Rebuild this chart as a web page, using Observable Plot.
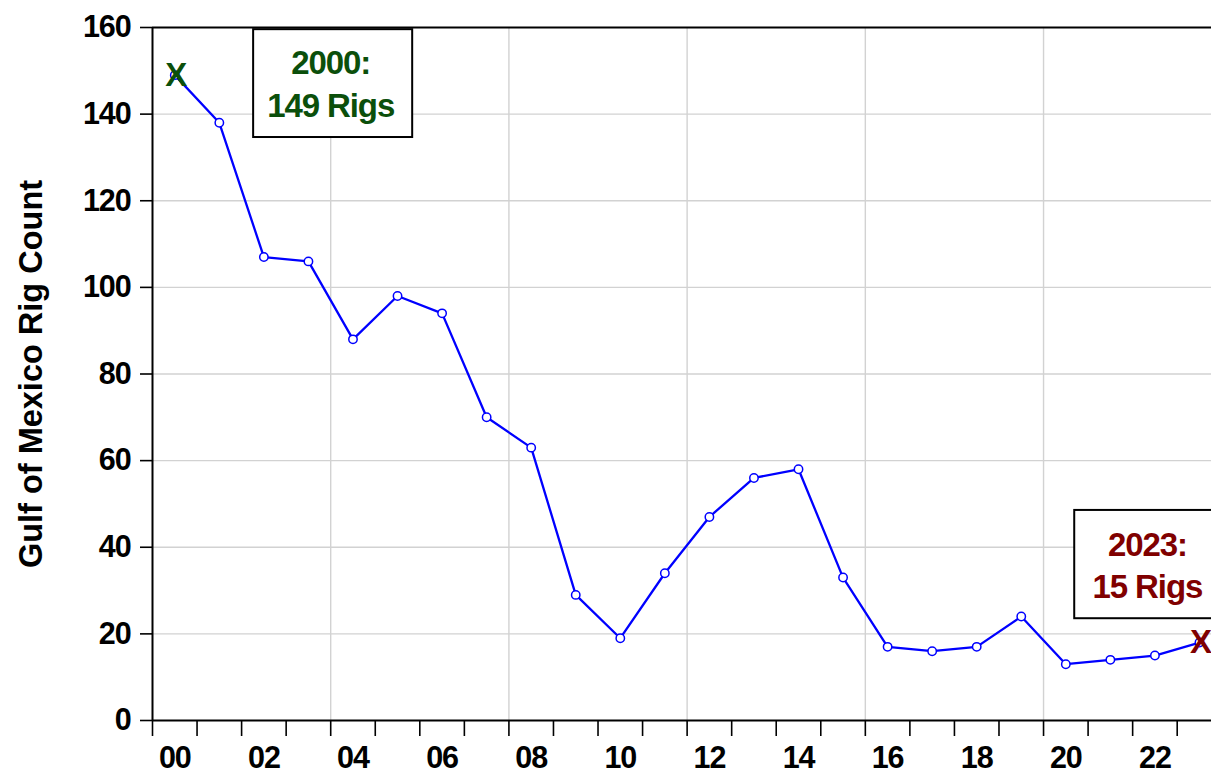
<!DOCTYPE html>
<html><head><meta charset="utf-8">
<script src="https://cdn.jsdelivr.net/npm/d3@7"></script>
<script src="https://cdn.jsdelivr.net/npm/@observablehq/plot@0.6"></script>
<style>
html,body{margin:0;padding:0;background:#fff;}
#chart svg{display:block;}
</style></head><body><div id="chart"></div>
<script>
const years = [2000,2001,2002,2003,2004,2005,2006,2007,2008,2009,2010,2011,2012,2013,2014,2015,2016,2017,2018,2019,2020,2021,2022,2023];
const rigs  = [149,138,107,106,88,98,94,70,63,29,19,34,47,56,58,33,17,16,17,24,13,14,15,18];
const tickYears  = [2000,2002,2004,2006,2008,2010,2012,2014,2016,2018,2020,2022];
const tickLabels = ["00","02","04","06","08","10","12","14","16","18","20","22"];
const yTicks = [0,20,40,60,80,100,120,140,160];
const gridYears = [2004,2008,2012,2016,2020];
const yTitle = "Gulf of Mexico Rig Count";
const noteYears  = [2000, 2023];
const noteValues = [149, 18];
const noteLabels = ["2000:\n149 Rigs", "2023:\n15 Rigs"];
const noteColors = ["#0b4f0b", "#800000"];
// annotation box extents in data units (year, rigs)
const noteBoxX1 = [2002.27, 2020.70];
const noteBoxX2 = [2005.84, 2024.50];
const noteBoxY1 = [134.6, 23.5];
const noteBoxY2 = [159.5, 48.5];
const noteTextX = [2004.0, 2022.33];
const noteTextY = [147.4, 36.3];

const data = years.map((year, i) => ({year, value: rigs[i]}));
const notes = noteYears.map((year, i) => ({
  year, value: noteValues[i], label: noteLabels[i], color: noteColors[i],
  x1: noteBoxX1[i], x2: noteBoxX2[i], y1: noteBoxY1[i], y2: noteBoxY2[i],
  tx: noteTextX[i], ty: noteTextY[i]
}));
const mid = d => d.year + 0.5;

const chart = Plot.plot({
  width: 1211, height: 773,
  marginLeft: 152, marginRight: 0, marginTop: 27, marginBottom: 53,
  x: {domain: [2000, 2023.77]},
  y: {domain: [0, 160]},
  color: {type: "identity"},
  style: {fontFamily: "'Liberation Sans', Arial, sans-serif", fontWeight: "bold", fontSize: "30px", background: "white", color: "black", letterSpacing: "-1.1px"},
  marks: [
    Plot.ruleY(yTicks.filter(v => v > 0 && v < 160), {stroke: "#d2d2d2", strokeWidth: 1.4}),
    Plot.ruleX(gridYears, {stroke: "#d2d2d2", strokeWidth: 1.4}),
    Plot.axisY({ticks: yTicks, tickSize: 12, tickPadding: 10, tickFormat: d => String(d), label: null, strokeWidth: 1.6, fontSize: 30.5}),
    Plot.axisX({ticks: years, tickSize: 16, tickFormat: () => "", label: null, strokeWidth: 1.6}),
    Plot.axisX({ticks: tickYears.map(y => y + 0.5), tickSize: 0, tickPadding: 26, label: null, fontSize: 30.5,
      tickFormat: d => tickLabels[tickYears.indexOf(Math.floor(d))]}),
    Plot.ruleY([0, 160], {stroke: "black", strokeWidth: 2}),
    Plot.ruleX([2000], {stroke: "black", strokeWidth: 2}),
    Plot.line(data, {x: mid, y: "value", stroke: "#0000ff", strokeWidth: 2.3}),
    Plot.dot(data, {x: mid, y: "value", r: 4.2, fill: "white", stroke: "#0000ff", strokeWidth: 1.5}),
    Plot.rect(notes, {x1: "x1", x2: "x2", y1: "y1", y2: "y2", fill: "white", stroke: "black", strokeWidth: 2}),
    Plot.text(notes, {x: "tx", y: "ty", text: "label", fill: "color", fontSize: 33, fontWeight: "bold", lineHeight: 1.28}),
    Plot.text(notes, {x: mid, y: "value", text: () => "X", fill: "color", fontSize: 33, fontWeight: "bold", dx: 1}),
    Plot.text([yTitle], {frameAnchor: "left", textAnchor: "middle", dx: -121, rotate: -90, text: d => d, fontSize: 32.5, fontWeight: "bold", fill: "black"})
  ]
});
d3.select(chart).selectAll("text").filter(function() { return this.textContent === yTitle; }).style("letter-spacing", "0px");
document.getElementById("chart").appendChild(chart);
</script>
</body></html>
